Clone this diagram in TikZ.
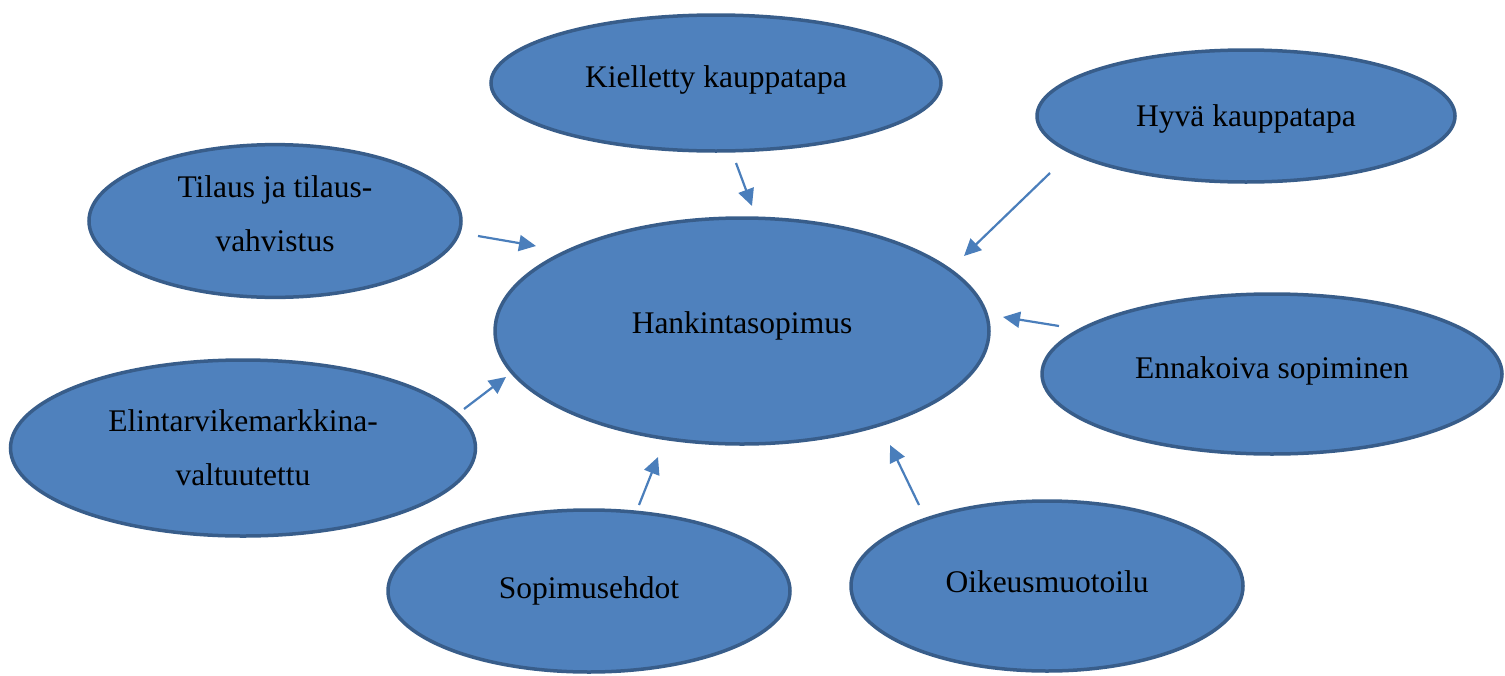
\documentclass[tikz,border=0pt]{standalone}
\usepackage{fontspec}
\setmainfont{Liberation Serif}
\usetikzlibrary{arrows.meta,shapes.geometric}

\definecolor{bubblefill}{HTML}{4F81BD}
\definecolor{bubbleline}{HTML}{385D8A}
\definecolor{arrowblue}{HTML}{4A7EBB}

\newcommand{\lift}[2]{\raisebox{#1}[\height][\depth]{#2}}

\tikzset{
  bubble/.style={ellipse, draw=bubbleline, fill=bubblefill, line width=3.5pt,
    inner sep=0pt, align=center, font=\fontsize{31.5}{54}\selectfont},
  feed/.style={draw=arrowblue, line width=2.2pt,
    -{Triangle[length=17pt,width=16pt,fill=arrowblue]}}
}

\begin{document}
\begin{tikzpicture}[x=1pt,y=-1pt]
        \useasboundingbox (0,0) rectangle (1505,675);

        % Centre bubble
        \node[bubble, minimum width=494pt, minimum height=226pt] (hanke) at (742,331) {\lift{5pt}{Hankintasopimus}};

        % Surrounding bubbles
        \node[bubble, minimum width=450pt, minimum height=136pt] (kiel) at (716,83) {\lift{3pt}{Kielletty kauppatapa}};
        \node[bubble, minimum width=418pt, minimum height=132pt] (hyva) at (1246,116) {\lift{-3pt}{Hyvä kauppatapa}};
        \node[bubble, minimum width=372pt, minimum height=152pt] (tilaus) at (275,221)
          {\lift{7pt}{\begin{tabular}{@{}c@{}}Tilaus ja tilaus-\\vahvistus\end{tabular}}};
        \node[bubble, minimum width=460pt, minimum height=160pt] (enna) at (1272,374) {\lift{3pt}{Ennakoiva sopiminen}};
        \node[bubble, minimum width=465pt, minimum height=176pt] (elin) at (243,448) {Elintarvikemarkkina-\\valtuutettu};
        \node[bubble, minimum width=402pt, minimum height=162pt] (ehdot) at (589,591) {Sopimusehdot};
        \node[bubble, minimum width=392pt, minimum height=170pt] (oikeus) at (1047,586) {\lift{4pt}{Oikeusmuotoilu}};

        % Arrow end points
        \coordinate (tilausA) at (478,236);  \coordinate (tilausB) at (536,246);
        \coordinate (kielA) at (736,163);    \coordinate (kielB) at (752,206);
        \coordinate (hyvaA) at (1050,173);   \coordinate (hyvaB) at (964,256);
        \coordinate (ennaA) at (1059,326);   \coordinate (ennaB) at (1003,317);
        \coordinate (elinA) at (464,409);    \coordinate (elinB) at (506,377);
        \coordinate (ehdotA) at (639,505);   \coordinate (ehdotB) at (658,457);
        \coordinate (oikeusA) at (919,505);  \coordinate (oikeusB) at (890,445);

        % Arrows into the centre
        \draw[feed] (tilausA) -- (tilausB);
        \draw[feed] (kielA) -- (kielB);
        \draw[feed] (hyvaA) -- (hyvaB);
        \draw[feed] (ennaA) -- (ennaB);
        \draw[feed] (elinA) -- (elinB);
        \draw[feed] (ehdotA) -- (ehdotB);
        \draw[feed] (oikeusA) -- (oikeusB);
\end{tikzpicture}
\end{document}
